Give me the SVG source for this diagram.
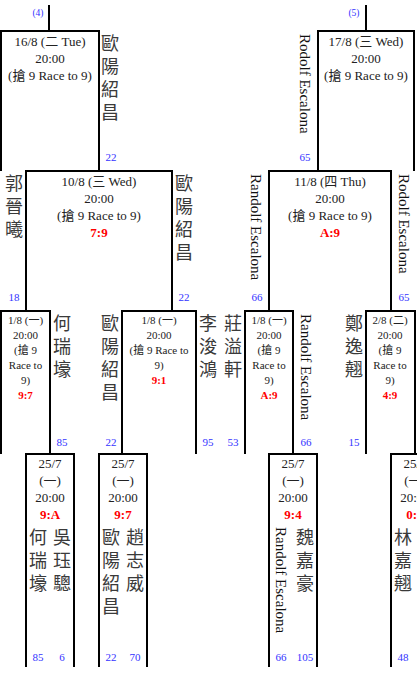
<svg xmlns="http://www.w3.org/2000/svg" width="417" height="688" viewBox="0 0 417 688">
<style>
.ln{fill:none;stroke:#000;stroke-width:2}
text{font-family:"Liberation Serif","Noto Sans CJK TC",serif;text-anchor:middle}
.d{font-size:13px;fill:#222}
.s{font-size:11px;fill:#222}
.r{font-size:13px;font-weight:bold;fill:#f00}
.rs{font-size:11px;font-weight:bold;fill:#f00}
.nm{font-family:"Noto Sans CJK TC","Noto Sans CJK SC",sans-serif;font-size:18px;fill:#3a3a3a;writing-mode:vertical-rl;text-anchor:start;letter-spacing:5px}
.en{font-size:15px;fill:#111;text-anchor:start}
.sd{font-size:11px;fill:#33f}
.lb{font-size:9.5px;fill:#33f}
</style>
<rect width="417" height="688" fill="#fff"/>
<g id="connectors">
<path class="ln" d="M49,5V31M366,5V31"/>
<text class="lb" x="38" y="15.5">(4)</text>
<text class="lb" x="354" y="15.5">(5)</text>
</g>
<g id="m1608">
<path class="ln" d="M1,171V31H99V171"/>
<text class="d" x="50" y="45.5">16/8 (二 Tue)</text>
<text class="d" x="50" y="62.5">20:00</text>
<text class="d" x="50" y="79.5">(搶 9 Race to 9)</text>
<text class="nm" x="110" y="34">歐陽紹昌</text>
<text class="sd" x="111" y="160.5">22</text>
</g>
<g id="m1708">
<path class="ln" d="M318,171V31H414V171"/>
<text class="d" x="366" y="45.5">17/8 (三 Wed)</text>
<text class="d" x="366" y="62.5">20:00</text>
<text class="d" x="366" y="79.5">(搶 9 Race to 9)</text>
<text class="en" transform="translate(300,34) rotate(90)">Rodolf Escalona</text>
<text class="sd" x="305" y="160.5">65</text>
</g>
<g id="m1008">
<path class="ln" d="M26,311V171H172V311"/>
<text class="d" x="99" y="185.5">10/8 (三 Wed)</text>
<text class="d" x="99" y="202.5">20:00</text>
<text class="d" x="99" y="219.5">(搶 9 Race to 9)</text>
<text class="r" x="99" y="236.5">7:9</text>
<text class="nm" x="14" y="174">郭晉曦</text>
<text class="sd" x="14" y="300.5">18</text>
<text class="nm" x="184" y="174">歐陽紹昌</text>
<text class="sd" x="184" y="300.5">22</text>
</g>
<g id="m1108">
<path class="ln" d="M269,311V171H391V311"/>
<text class="d" x="330" y="185.5">11/8 (四 Thu)</text>
<text class="d" x="330" y="202.5">20:00</text>
<text class="d" x="330" y="219.5">(搶 9 Race to 9)</text>
<text class="r" x="330" y="236.5">A:9</text>
<text class="en" transform="translate(251,174) rotate(90)">Randolf Escalona</text>
<text class="sd" x="257" y="300.5">66</text>
<text class="en" transform="translate(399,174) rotate(90)">Rodolf Escalona</text>
<text class="sd" x="404" y="300.5">65</text>
</g>
<g id="m0108a">
<path class="ln" d="M1,454V311H50V454"/>
<text class="s" x="25.5" y="324">1/8 (一)</text>
<text class="s" x="25.5" y="339">20:00</text>
<text class="s" x="25.5" y="354">(搶 9</text>
<text class="s" x="25.5" y="369">Race to</text>
<text class="s" x="25.5" y="384">9)</text>
<text class="rs" x="25.5" y="399">9:7</text>
<text class="nm" x="62" y="314">何瑞壕</text>
<text class="sd" x="62" y="445.5">85</text>
</g>
<g id="m0108b">
<path class="ln" d="M122,454V311H196V454"/>
<text class="s" x="159" y="324">1/8 (一)</text>
<text class="s" x="159" y="339">20:00</text>
<text class="s" x="159" y="354">(搶 9 Race to</text>
<text class="s" x="159" y="369">9)</text>
<text class="rs" x="159" y="384">9:1</text>
<text class="nm" x="110" y="314">歐陽紹昌</text>
<text class="sd" x="111" y="445.5">22</text>
<text class="nm" x="208" y="314">李浚鴻</text>
<text class="sd" x="208" y="445.5">95</text>
</g>
<g id="m0108c">
<path class="ln" d="M245,454V311H293V454"/>
<text class="s" x="269" y="324">1/8 (一)</text>
<text class="s" x="269" y="339">20:00</text>
<text class="s" x="269" y="354">(搶 9</text>
<text class="s" x="269" y="369">Race to</text>
<text class="s" x="269" y="384">9)</text>
<text class="rs" x="269" y="399">A:9</text>
<text class="nm" x="233" y="314">莊溢軒</text>
<text class="sd" x="233" y="445.5">53</text>
<text class="en" transform="translate(301,314) rotate(90)">Randolf Escalona</text>
<text class="sd" x="306" y="445.5">66</text>
</g>
<g id="m0208">
<path class="ln" d="M366,454V311H415V454"/>
<text class="s" x="390" y="324">2/8 (二)</text>
<text class="s" x="390" y="339">20:00</text>
<text class="s" x="390" y="354">(搶 9</text>
<text class="s" x="390" y="369">Race to</text>
<text class="s" x="390" y="384">9)</text>
<text class="rs" x="390" y="399">4:9</text>
<text class="nm" x="354" y="314">鄭逸翹</text>
<text class="sd" x="354" y="445.5">15</text>
</g>
<g id="m2507a">
<path class="ln" d="M26,667V454H74V667"/>
<text class="d" x="50" y="468">25/7</text>
<text class="d" x="50" y="485">(一)</text>
<text class="d" x="50" y="502">20:00</text>
<text class="r" x="50" y="519">9:A</text>
<text class="nm" x="38" y="528">何瑞壕</text>
<text class="nm" x="62" y="528">吳珏驄</text>
<text class="sd" x="38" y="660.5">85</text>
<text class="sd" x="62" y="660.5">6</text>
</g>
<g id="m2507b">
<path class="ln" d="M99,667V454H147V667"/>
<text class="d" x="123" y="468">25/7</text>
<text class="d" x="123" y="485">(一)</text>
<text class="d" x="123" y="502">20:00</text>
<text class="r" x="123" y="519">9:7</text>
<text class="nm" x="111" y="528">歐陽紹昌</text>
<text class="nm" x="135" y="528">趙志威</text>
<text class="sd" x="111" y="660.5">22</text>
<text class="sd" x="135" y="660.5">70</text>
</g>
<g id="m2507c">
<path class="ln" d="M269,667V454H317V667"/>
<text class="d" x="293" y="468">25/7</text>
<text class="d" x="293" y="485">(一)</text>
<text class="d" x="293" y="502">20:00</text>
<text class="r" x="293" y="519">9:4</text>
<text class="en" transform="translate(276,527) rotate(90)">Randolf Escalona</text>
<text class="nm" x="305" y="528">魏嘉豪</text>
<text class="sd" x="281" y="660.5">66</text>
<text class="sd" x="305" y="660.5">105</text>
</g>
<g id="m2507d">
<path class="ln" d="M391,667V454H439V667"/>
<text class="d" x="415" y="468">25/7</text>
<text class="d" x="415" y="485">(一)</text>
<text class="d" x="415" y="502">20:00</text>
<text class="r" x="415" y="519">0:9</text>
<text class="nm" x="403" y="528">林嘉翹</text>
<text class="sd" x="403" y="660.5">48</text>
</g>
</svg>
